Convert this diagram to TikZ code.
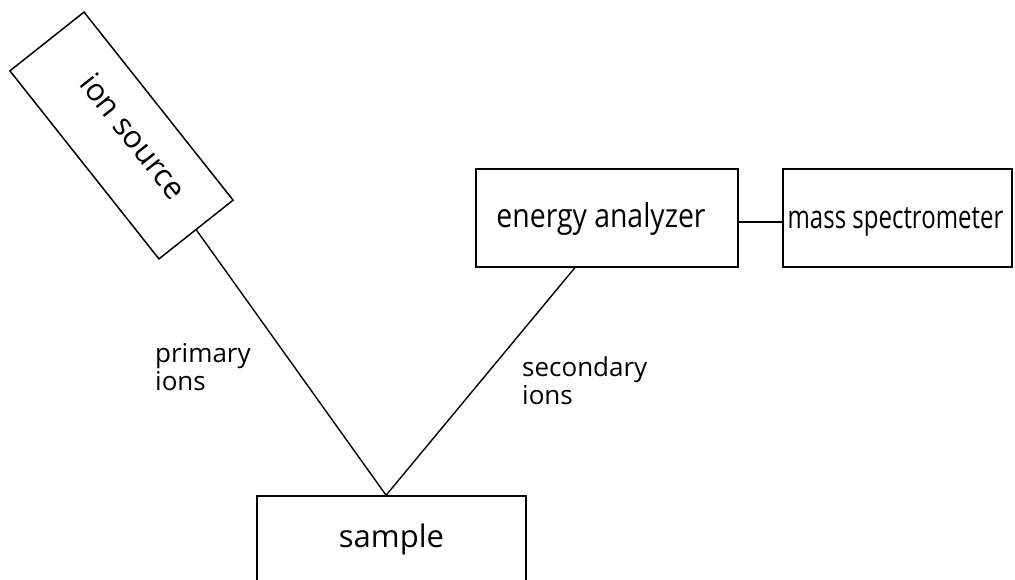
\documentclass[tikz,border=0pt]{standalone}
\usepackage{fontspec}
\usepackage{graphicx}
\setmainfont{Open Sans}
\usetikzlibrary{calc}
\begin{document}
\begin{tikzpicture}[x=1pt,y=-1pt,
  box/.style={draw=black,line width=1.5pt,rectangle,inner sep=0pt,font=\fontsize{#1}{#1}\selectfont},
  box/.default=28,
  wire/.style={draw=black,line width=1.4pt},
  lbl/.style={align=left,inner sep=0pt,font=\fontsize{26}{28}\selectfont}]
\clip (0,0) rectangle (1015,580);
\fill[white] (0,0) rectangle (1015,580);
\node[box=31,minimum width=240pt,minimum height=94.6pt,rotate=-51.6,text height=22pt,text depth=18pt] (ion) at (121.5,135.5) {\hspace*{16pt}ion source};
\node[box,minimum width=262pt,minimum height=98pt,text height=24pt,text depth=4pt] (ea) at (607,218) {\scalebox{0.86}[1]{\fontsize{33}{33}\selectfont energy analyzer}\hspace*{12pt}};
\node[box,minimum width=229pt,minimum height=98pt,text height=26pt,text depth=4pt] (ms) at (897.5,218) {\scalebox{0.75}[1]{\fontsize{32}{32}\selectfont mass spectrometer}\hspace*{4pt}};
\node[box=31,minimum width=269pt,minimum height=86pt,text height=24pt,text depth=8pt] (sample) at (391.5,539) {sample};
\coordinate (hit) at ($(sample.north west)!0.48!(sample.north east)$);
\coordinate (eaout) at ($(ea.south west)!0.378!(ea.south east)$);
\draw[wire] (ion.east) -- (hit) -- (eaout);
\draw[wire] ($(ea.east)+(0,4)$) -- ($(ms.west)+(0,4)$);
\node[lbl,anchor=base west] (pl) at (155,390) {primary\\ions};
\node[lbl,anchor=base west] (sl) at (522,404) {secondary\\ions};
\end{tikzpicture}
\end{document}
